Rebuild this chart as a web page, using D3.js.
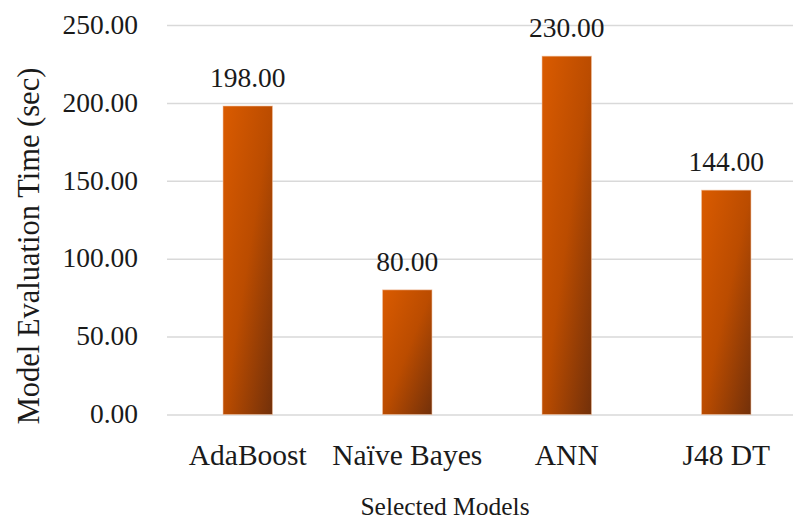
<!DOCTYPE html>
<html>
<head>
<meta charset="utf-8">
<script src="https://cdn.jsdelivr.net/npm/d3@7/dist/d3.min.js"></script>
<style>
  html, body { margin: 0; padding: 0; background: #fff; }
  svg { display: block; }
  svg text { font-family: "Liberation Serif", "Times New Roman", serif; fill: #1a1a1a; }
</style>
</head>
<body>
<svg id="chart" width="793" height="520"></svg>
<script>
// Evaluation time per model, in seconds
const models = ["AdaBoost", "Naïve Bayes", "ANN", "J48 DT"];
const evalTimes = [198, 80, 230, 144];
const yTicks = [0, 50, 100, 150, 200, 250];

const SERIF = "'Liberation Serif', 'Times New Roman', serif";
const svg = d3.select("#chart");
const plot = { left: 168, right: 806, top: 25, bottom: 414.5 };

const x = d3.scaleBand()
  .domain(models)
  .range([plot.left, plot.right])
  .paddingInner(0.69)
  .paddingOuter(0.345);

const y = d3.scaleLinear()
  .domain([0, 250])
  .range([plot.bottom, plot.top]);

// Diagonal orange-to-brown fill for the bars
const defs = svg.append("defs");
const grad = defs.append("linearGradient")
  .attr("id", "barFill")
  .attr("x1", 0).attr("y1", 0)
  .attr("x2", 1).attr("y2", 1);
grad.append("stop").attr("offset", "0%").attr("stop-color", "#da5b00");
grad.append("stop").attr("offset", "50%").attr("stop-color", "#bb4c00");
grad.append("stop").attr("offset", "100%").attr("stop-color", "#72300a");

// Horizontal gridlines with value labels on the left
const yAxis = d3.axisLeft(y)
  .tickValues(yTicks)
  .tickSize(-(plot.right - plot.left))
  .tickFormat(d3.format(".2f"))
  .tickPadding(29);

const gy = svg.append("g")
  .attr("transform", `translate(${plot.left - 1},0)`)
  .call(yAxis)
  .attr("font-family", null);
gy.select(".domain").remove();
gy.selectAll(".tick line")
  .attr("stroke", "#d9d9d9")
  .attr("stroke-width", 1.5);
gy.selectAll(".tick text")
  .style("font-family", SERIF)
  .style("font-size", "27.5px")
  .attr("fill", "#1a1a1a")
  .attr("dy", "0.3em");

// Bars
svg.append("g")
  .selectAll("rect")
  .data(models)
  .join("rect")
  .attr("x", (d) => x(d))
  .attr("y", (d, i) => y(evalTimes[i]))
  .attr("width", x.bandwidth())
  .attr("height", (d, i) => y(0) - y(evalTimes[i]))
  .attr("fill", "url(#barFill)")
  .attr("stroke", "#f2c3a2")
  .attr("stroke-opacity", 0.55)
  .attr("stroke-width", 1);

// Value labels above each bar
svg.append("g")
  .selectAll("text")
  .data(models)
  .join("text")
  .attr("x", (d) => x(d) + x.bandwidth() / 2)
  .attr("y", (d, i) => y(evalTimes[i]) - 19)
  .attr("text-anchor", "middle")
  .style("font-family", SERIF)
  .style("font-size", "27.5px")
  .text((d, i) => d3.format(".2f")(evalTimes[i]));

// Category labels
const xAxis = d3.axisBottom(x).tickSize(0).tickPadding(0);
const gx = svg.append("g")
  .attr("transform", `translate(0,${plot.bottom})`)
  .call(xAxis)
  .attr("font-family", null);
gx.select(".domain").remove();
gx.selectAll(".tick text")
  .style("font-family", SERIF)
  .style("font-size", "29.5px")
  .attr("fill", "#1a1a1a")
  .attr("dy", null)
  .attr("y", 50.5);

// Axis titles
svg.append("text")
  .attr("x", 445)
  .attr("y", 515)
  .attr("text-anchor", "middle")
  .style("font-family", SERIF)
  .style("font-size", "25.5px")
  .text("Selected Models");

svg.append("text")
  .attr("transform", "translate(39,246) rotate(-90)")
  .attr("text-anchor", "middle")
  .style("font-family", SERIF)
  .style("font-size", "30.5px")
  .text("Model Evaluation Time (sec)");
</script>
</body>
</html>
